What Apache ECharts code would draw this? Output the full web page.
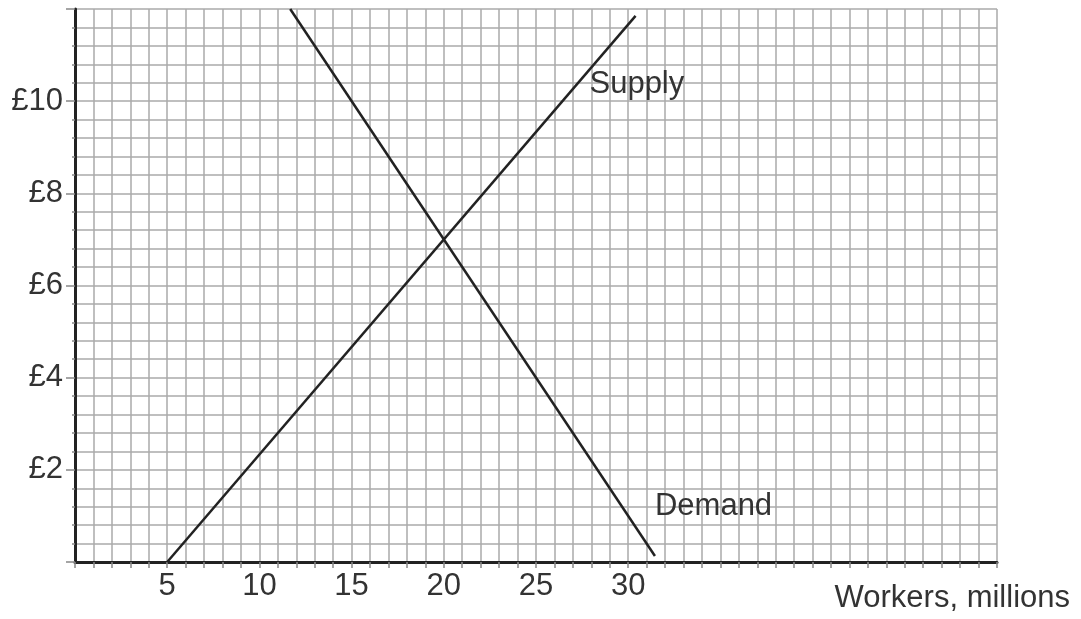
<!DOCTYPE html>
<html lang="en">
<head>
    <meta charset="UTF-8">
    <title>Labour market</title>
    <script src="https://cdn.jsdelivr.net/npm/echarts@6/dist/echarts.min.js"></script>
    <style>
        html, body { margin: 0; padding: 0; background: #fff; }
        #main { width: 1081px; height: 619px; }
    </style>
</head>
<body>
<div id="main"></div>
<script type="text/javascript">
    // workers (millions) vs wage (£)
    var supplyPoints = [[5, 0], [30.4, 11.85]];
    var demandPoints = [[11.67, 12], [31.45, 0.13]];
    var xTickLabels = [5, 10, 15, 20, 25, 30];
    var yTickLabels = [2, 4, 6, 8, 10];

    var ink = '#222';
    var textColor = '#333';
    var gridColor = '#aaaaaa';
    var font = 'Liberation Sans';

    var chartDom = document.getElementById('main');
    var myChart = echarts.init(chartDom);
    var option;

    option = {
        animation: false,
        grid: { left: 75, right: 84, top: 9, bottom: 57 },
        xAxis: {
            type: 'value',
            min: 0,
            max: 50,
            interval: 5,
            axisLine: { show: true, onZero: false, lineStyle: { color: ink, width: 3 } },
            axisTick: { show: true, length: 6, lineStyle: { color: '#888', width: 1.5 } },
            minorTick: { show: true, splitNumber: 5, length: 6, lineStyle: { color: '#888', width: 1.5 } },
            splitLine: { show: true, lineStyle: { color: gridColor, width: 1.5 } },
            minorSplitLine: { show: true, lineStyle: { color: gridColor, width: 1.5 } },
            axisLabel: {
                margin: 9,
                fontSize: 31,
                fontFamily: font,
                color: textColor,
                formatter: function (v) {
                    return xTickLabels.indexOf(v) >= 0 ? String(v) : '';
                }
            }
        },
        yAxis: {
            type: 'value',
            min: 0,
            max: 12,
            interval: 2,
            axisLine: { show: true, onZero: false, lineStyle: { color: ink, width: 3 } },
            axisTick: { show: true, length: 9, lineStyle: { color: '#888', width: 1.5 } },
            minorTick: { show: true, splitNumber: 5, length: 3, lineStyle: { color: '#888', width: 1.5 } },
            splitLine: { show: true, lineStyle: { color: gridColor, width: 1.5 } },
            minorSplitLine: { show: true, lineStyle: { color: gridColor, width: 1.5 } },
            axisLabel: {
                margin: 12,
                fontSize: 31,
                fontFamily: font,
                color: textColor,
                formatter: function (v) {
                    return yTickLabels.indexOf(v) >= 0 ? '£' + v : '';
                }
            }
        },
        graphic: [
            {
                type: 'text',
                right: 11,
                top: 583,
                style: { text: 'Workers, millions', fontSize: 31, fontFamily: font, fill: textColor }
            }
        ],
        series: [
            {
                name: 'Supply',
                type: 'line',
                data: supplyPoints,
                symbol: 'none',
                lineStyle: { color: ink, width: 2.5 },
                markPoint: {
                    symbol: 'circle',
                    symbolSize: 0,
                    data: [{ coord: [27.9, 10.37] }],
                    label: { show: true, position: 'right', distance: 0, formatter: 'Supply', fontSize: 31, fontFamily: font, color: textColor }
                }
            },
            {
                name: 'Demand',
                type: 'line',
                data: demandPoints,
                symbol: 'none',
                lineStyle: { color: ink, width: 2.5 },
                markPoint: {
                    symbol: 'circle',
                    symbolSize: 0,
                    data: [{ coord: [31.45, 1.2] }],
                    label: { show: true, position: 'right', distance: 0, formatter: 'Demand', fontSize: 31, fontFamily: font, color: textColor }
                }
            }
        ]
    };

    option && myChart.setOption(option);
</script>
</body>
</html>
